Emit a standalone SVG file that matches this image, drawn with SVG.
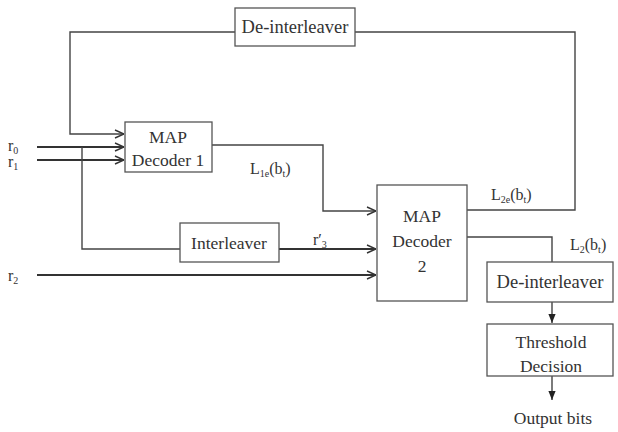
<svg xmlns="http://www.w3.org/2000/svg" width="618" height="432" viewBox="0 0 618 432">
<defs>
<marker id="open" viewBox="0 0 10 10" refX="10" refY="5" markerWidth="10" markerHeight="10" markerUnits="userSpaceOnUse" orient="auto">
<path d="M1,1 L10,5 L1,9" fill="none" stroke="#333" stroke-width="1.4"/>
</marker>
<marker id="fill" viewBox="0 0 10 10" refX="10" refY="5" markerWidth="9" markerHeight="9" markerUnits="userSpaceOnUse" orient="auto">
<path d="M0,1 L10,5 L0,9 Z" fill="#222"/>
</marker>
</defs>
<style>
.box{fill:#fff;stroke:#555;stroke-width:1.3}
text{font-family:"Liberation Serif","DejaVu Serif","Times New Roman",serif}
.t{font-size:17.5px;fill:#333;text-anchor:middle}
.l{font-size:16px;fill:#333}
.s{font-size:10px}
.c{fill:none;stroke:#444;stroke-width:1.4}
.cd{fill:none;stroke:#333;stroke-width:2}
</style>
<rect width="618" height="432" fill="#fff"/>
<g id="connectors">
<polyline class="c" points="235,32 70,32 70,134 124,134" marker-end="url(#open)"/>
<polyline class="c" points="355,32 575,32 575,210 467,210"/>
<line class="cd" x1="37" y1="147" x2="124" y2="147" marker-end="url(#open)"/>
<line class="cd" x1="37" y1="160" x2="124" y2="160" marker-end="url(#open)"/>
<polyline class="c" points="82,147 82,249 180,249"/>
<polyline class="c" points="212,145 323,145 323,211 376,211" marker-end="url(#open)"/>
<line class="cd" x1="279" y1="249" x2="376" y2="249" marker-end="url(#open)"/>
<line class="cd" x1="37" y1="275" x2="376" y2="275" marker-end="url(#open)"/>
<polyline class="c" points="467,237 552,237 552,262"/>
<line class="c" x1="552" y1="302" x2="552" y2="323" marker-end="url(#fill)"/>
<line class="c" x1="552" y1="376" x2="552" y2="400" marker-end="url(#fill)"/>
</g>
<g id="deinterleaver-top">
<rect class="box" x="235" y="8" width="120" height="38"/>
<text class="t" x="295" y="33" style="font-size:18.5px">De-interleaver</text>
</g>
<g id="map-decoder-1">
<rect class="box" x="125" y="122" width="87" height="50"/>
<text class="t" x="168" y="143">MAP</text>
<text class="t" x="168" y="166">Decoder 1</text>
</g>
<g id="interleaver">
<rect class="box" x="180" y="223" width="99" height="39"/>
<text class="t" x="229" y="249">Interleaver</text>
</g>
<g id="map-decoder-2">
<rect class="box" x="377" y="185" width="90" height="116"/>
<text class="t" x="422" y="222">MAP</text>
<text class="t" x="422" y="247">Decoder</text>
<text class="t" x="422" y="272">2</text>
</g>
<g id="deinterleaver-bottom">
<rect class="box" x="487" y="262" width="126" height="40"/>
<text class="t" x="550" y="288" style="font-size:18.5px">De-interleaver</text>
</g>
<g id="threshold-decision">
<rect class="box" x="487" y="324" width="126" height="52"/>
<text class="t" x="551" y="348">Threshold</text>
<text class="t" x="551" y="372">Decision</text>
</g>
<g id="labels">
<text class="l" x="8" y="151">r<tspan class="s" dy="3">0</tspan></text>
<text class="l" x="8" y="167">r<tspan class="s" dy="3">1</tspan></text>
<text class="l" x="8" y="281">r<tspan class="s" dy="3">2</tspan></text>
<text class="l" x="250" y="174">L<tspan class="s" dy="3">1e</tspan><tspan dy="-3">(b</tspan><tspan class="s" dy="3">t</tspan><tspan dy="-3">)</tspan></text>
<text class="l" x="313" y="245">r′<tspan class="s" dy="3">3</tspan></text>
<text class="l" x="491" y="200">L<tspan class="s" dy="3">2e</tspan><tspan dy="-3">(b</tspan><tspan class="s" dy="3">t</tspan><tspan dy="-3">)</tspan></text>
<text class="l" x="570" y="250">L<tspan class="s" dy="3">2</tspan><tspan dy="-3">(b</tspan><tspan class="s" dy="3">t</tspan><tspan dy="-3">)</tspan></text>
<text class="t" x="553" y="424">Output bits</text>
</g>
</svg>
